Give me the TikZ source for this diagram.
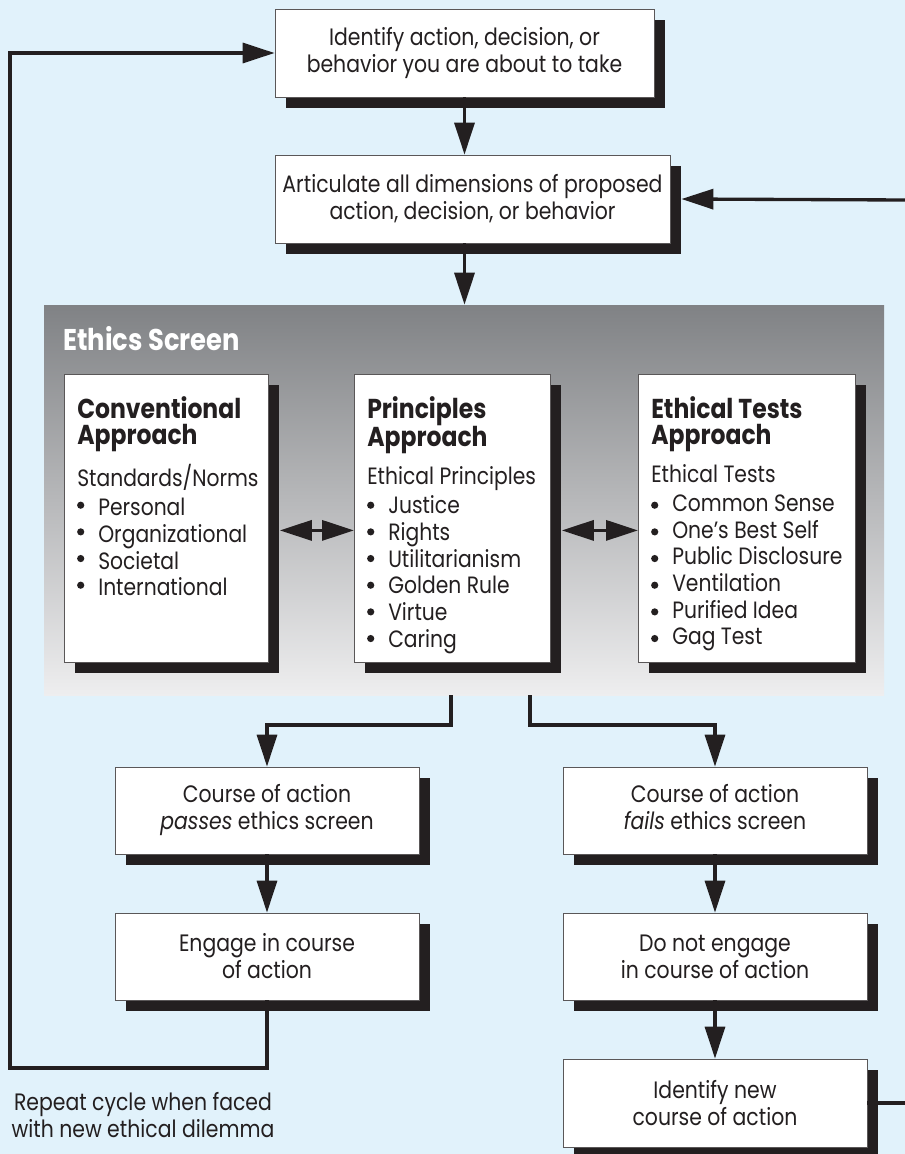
\documentclass[tikz,border=0pt]{standalone}
\usepackage{fontspec}
\setmainfont{Poppins}[FakeStretch=0.86]
\usetikzlibrary{arrows.meta,shadows}
\definecolor{bgblue}{RGB}{225,242,251}
\definecolor{ink}{RGB}{35,31,32}
\definecolor{scrtop}{RGB}{128,130,133}
\definecolor{scrbot}{RGB}{238,238,239}
\newcommand\flowfnt{\fontsize{17.8pt}{20.25pt}\selectfont}
\newcommand\ttlfnt{\fontsize{20.5pt}{20pt}\selectfont\bfseries}
\newcommand\scrfnt{\fontsize{22.5pt}{24pt}\selectfont\bfseries}
\newcommand\bdyfnt{\fontsize{17.7pt}{20pt}\selectfont\mdseries}
\newcommand\bulitem{\makebox[15.75pt]{}}
\begin{document}
\begin{tikzpicture}[x=0.75pt,y=-0.75pt,
  shadowed/.style={drop shadow={shadow xshift=8.25pt,shadow yshift=-8.25pt,fill=ink,opacity=1}},
  flowbox/.style={shadowed,draw=ink!75,line width=0.6pt,fill=white,align=center,inner sep=0pt,
    minimum height=66pt,text=ink,font=\flowfnt},
  innerbox/.style={shadowed,draw=ink!75,line width=0.6pt,fill=white,inner sep=0pt,anchor=north west,minimum height=216pt},
  innertext/.style={anchor=base west,inner sep=0pt,text=ink},
  bulletdot/.style={fill=ink},
  flow/.style={draw=ink,line width=2.5pt,line join=miter,-{Triangle[length=24pt,width=15pt]}},
  plainline/.style={draw=ink,line width=2.5pt,line join=miter},
  dbl/.style={draw=ink,line width=2.5pt,{Triangle[length=24pt,width=15pt]}-{Triangle[length=24pt,width=15pt]}}
]
\fill[bgblue] (0,0) rectangle (905,1154);
\useasboundingbox (0,0) rectangle (905,1154);

% top flow boxes
\node[flowbox,minimum width=284.25pt] (box1) at (464.5,53) {Identify action, decision, or\\behavior you are about to take};
\node[flowbox,minimum width=296.25pt] (box2) at (472.5,199) {Articulate all dimensions of proposed\\action, decision, or behavior};

% ethics screen
\node[top color=scrtop,bottom color=scrbot,minimum width=630pt,minimum height=292.5pt,inner sep=0pt] (screen) at (464,500) {};
\node[anchor=base west,inner sep=0pt,text=white,font=\scrfnt] (scrtitle) at (63,350) {Ethics Screen};

\node[innerbox,minimum width=153pt] (conv) at (64,374) {};
\node[innerbox,minimum width=147pt] (princ) at (354,374) {};
\node[innerbox,minimum width=162.75pt] (tests) at (638,374) {};

\node[innertext] (convtext) at (77,418) {\parbox[t]{150pt}{\ttlfnt Conventional\\Approach\\[8.5pt]\bdyfnt Standards/Norms\\[1.7pt]
 \bulitem Personal\\ \bulitem Organizational\\ \bulitem Societal\\ \bulitem International}};
\node[innertext] (princtext) at (367,418) {\parbox[t]{150pt}{\ttlfnt Principles\\Approach\\[8.5pt]\bdyfnt Ethical Principles\\[1.7pt]
 \bulitem Justice\\ \bulitem Rights\\ \bulitem Utilitarianism\\ \bulitem Golden Rule\\ \bulitem Virtue\\ \bulitem Caring}};
\node[innertext] (teststext) at (651,418) {\parbox[t]{160pt}{\ttlfnt Ethical Tests\\Approach\\[8.5pt]\bdyfnt Ethical Tests\\[1.7pt]
 \bulitem Common Sense\\ \bulitem One’s Best Self\\ \bulitem Public Disclosure\\ \bulitem Ventilation\\ \bulitem Purified Idea\\ \bulitem Gag Test}};

% bullets
\foreach \k in {0,...,3} \fill[bulletdot] (80.7,505.2+26.667*\k) circle[radius=3.6];
\foreach \k in {0,...,5} \fill[bulletdot] (370.7,505.2+26.667*\k) circle[radius=3.6];
\foreach \k in {0,...,5} \fill[bulletdot] (654.7,505.2+26.667*\k) circle[radius=3.6];

% lower flow boxes
\node[flowbox,minimum width=228pt,minimum height=65.25pt] (passes) at (267,810.5) {Course of action\\{\itshape passes} ethics screen};
\node[flowbox,minimum width=228pt,minimum height=65.25pt] (engage) at (267,956.5) {Engage in course\\of action};
\node[flowbox,minimum width=228pt,minimum height=65.25pt] (fails) at (715,810.5) {Course of action\\{\itshape fails} ethics screen\vphantom{p}};
\node[flowbox,minimum width=228pt,minimum height=65.25pt] (donot) at (715,956.5) {Do not engage\\in course of action};
\node[flowbox,minimum width=228pt,minimum height=66pt] (idnew) at (715,1103) {Identify new\\course of action};

\node[align=center,text=ink,font=\flowfnt,inner sep=0pt] (note) at (143,1115) {Repeat cycle when faced\\with new ethical dilemma};

% connectors
\draw[flow] (box1.south) -- (box1.south |- box2.north);
\draw[flow] (box1.south |- box2.south) -- (box1.south |- screen.north);
\draw[dbl] ([shift={(11,12)}]conv.east) -- ([shift={(0,12)}]princ.west);
\draw[dbl] ([shift={(11,12)}]princ.east) -- ([shift={(0,12)}]tests.west);

\coordinate (sL) at (451,695);
\coordinate (sR) at (530,695);
\draw[flow] (sL) -- ++(0,30) -| (passes.north);
\draw[flow] (sR) -- ++(0,30) -| (fails.north);
\draw[flow] (passes.south) -- (engage.north);
\draw[flow] (fails.south) -- (donot.north);
\draw[flow] (donot.south) -- (idnew.north);

\coordinate (loopBL) at (10,1068);
\draw[flow] (engage.south) |- (loopBL) |- (box1.west);

\coordinate (rT) at (906,200);
\coordinate (rB) at (906,1103);
\draw[flow] (rT) -- ([xshift=8.25pt]box2.east);
\draw[plainline] (idnew.east) -- (rB);
\end{tikzpicture}
\end{document}
